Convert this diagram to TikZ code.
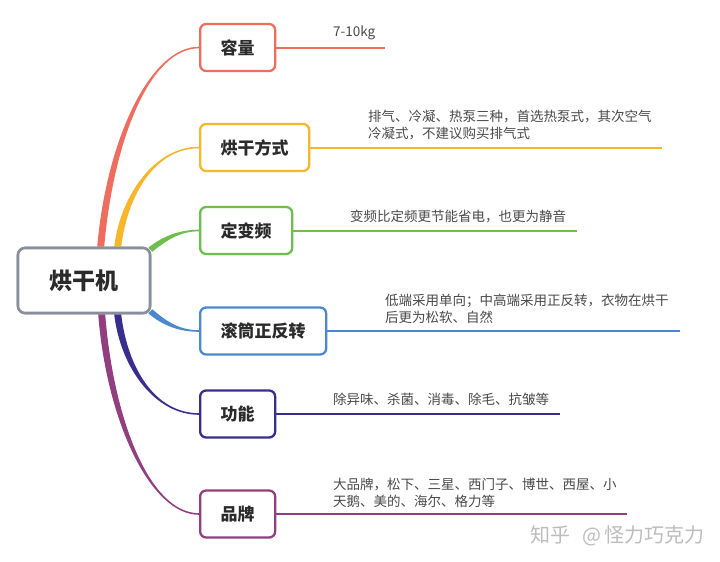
\documentclass[tikz,border=0pt]{standalone}
\usepackage{fontspec}
\setmainfont{Noto Sans CJK SC}
\usetikzlibrary{calc}
\definecolor{cred}{HTML}{EE6D5E}
\definecolor{corange}{HTML}{F6B72B}
\definecolor{cgreen}{HTML}{6EBE4E}
\definecolor{cblue}{HTML}{4C88CF}
\definecolor{cdpurple}{HTML}{392E8E}
\definecolor{cmagenta}{HTML}{913F80}
\definecolor{cgray}{HTML}{8A8F9C}
\definecolor{ctext}{HTML}{2B2B2B}
\definecolor{cdesc}{HTML}{4A4A4A}
\definecolor{cwater}{HTML}{BDBDBD}
\newcommand\taper[7]{\fill[#1] ($#2+#6$) .. controls ($#3+#6$) and ($#4+#7$) .. ($#5+#7$) -- ($#5-#7$) .. controls ($#4-#7$) and ($#3-#6$) .. ($#2-#6$) -- cycle;}
\begin{document}
\begin{tikzpicture}[x=1pt,y=-1pt,
  rootbox/.style={draw=cgray, line width=2.6pt, rounded corners=7pt, fill=white,
    minimum width=132pt, minimum height=65pt, inner sep=0pt, text=ctext,
    font=\fontsize{23}{23}\selectfont\bfseries},
  childbox/.style={draw=#1, line width=2.3pt, rounded corners=6pt, fill=white,
    minimum height=47pt, inner xsep=20.5pt, inner ysep=0pt, anchor=west, text=ctext,
    font=\fontsize{17}{17}\selectfont\bfseries},
  desc/.style={anchor=west, inner sep=0pt, align=left, text=cdesc,
    font=\fontsize{13.5}{17}\selectfont},
  underline/.style={draw=#1, line width=2pt},
]
\useasboundingbox (0,0) rectangle (720,562);
\fill[white] (0,0) rectangle (720,562);

% root
\node[rootbox] (root) at (84,280.5) {烘干机};

\path (199,47.5) coordinate (p1) (199,147.5) coordinate (p2) (199,230.5) coordinate (p3)
      (199,331) coordinate (p4) (199,414) coordinate (p5) (199,514) coordinate (p6);

% branch start points on the root box
\coordinate (s1) at ($(root.north west)+(84,0)$);
\coordinate (s2) at ($(root.north west)+(101,0)$);
\coordinate (s3) at ($(root.north east)+(-1,3)$);
\coordinate (s4) at ($(root.south east)+(-1,-3)$);
\coordinate (s5) at ($(root.south west)+(101,0)$);
\coordinate (s6) at ($(root.south west)+(85,0)$);

% tapered branches
\taper{cred}{(s1)}{(110,140)}{(150,47.5)}{(p1)}{(-3.5,0)}{(0,-0.8)}
\taper{corange}{(s2)}{(124,195)}{(155,147.5)}{(p2)}{(-3.5,0)}{(0,-0.8)}
\taper{cgreen}{(s3)}{(165,238)}{(180,230.5)}{(p3)}{(-2,-2)}{(0,-0.8)}
\taper{cblue}{(s4)}{(165,324)}{(180,331)}{(p4)}{(-2,2)}{(0,0.8)}
\taper{cdpurple}{(s5)}{(124,368)}{(155,414)}{(p5)}{(-3.5,0)}{(0,0.8)}
\taper{cmagenta}{(s6)}{(110,420)}{(150,514)}{(p6)}{(-3.5,0)}{(0,0.8)}

\node[rootbox] at (root) {烘干机};

\node[childbox=cred] (c1) at (p1) {容量};
\node[childbox=corange] (c2) at (p2) {烘干方式};
\node[childbox=cgreen] (c3) at (p3) {定变频};
\node[childbox=cblue] (c4) at (p4) {滚筒正反转};
\node[childbox=cdpurple] (c5) at (p5) {功能};
\node[childbox=cmagenta] (c6) at (p6) {品牌};

% line ends
\coordinate (e1) at (385,47.5);
\coordinate (e2) at (662,147.5);
\coordinate (e3) at (577,230.5);
\coordinate (e4) at (680,331);
\coordinate (e5) at (560,414);
\coordinate (e6) at (627,514);

\draw[underline=cred] (c1.east) -- (e1);
\draw[underline=corange] (c2.east) -- (e2);
\draw[underline=cgreen] (c3.east) -- (e3);
\draw[underline=cblue] (c4.east) -- (e4);
\draw[underline=cdpurple] (c5.east) -- (e5);
\draw[underline=cmagenta] (c6.east) -- (e6);

% descriptions
\node[desc] (d1) at (333,33) {7-10kg};
\node[desc] (d2) at (368,125) {排气、冷凝、热泵三种，首选热泵式，其次空气\\冷凝式，不建议购买排气式};
\node[desc] (d3) at (350,216) {变频比定频更节能省电，也更为静音};
\node[desc] (d4) at (385,308.5) {低端采用单向；中高端采用正反转，衣物在烘干\\后更为松软、自然};
\node[desc] (d5) at (333,399) {除异味、杀菌、消毒、除毛、抗皱等};
\node[desc] (d6) at (333,492.5) {大品牌，松下、三星、西门子、博世、西屋、小\\天鹅、美的、海尔、格力等};

% watermark
\node[anchor=west, inner sep=0pt, text=cwater, font=\fontsize{20}{20}\selectfont] (wm) at (530,536) {知乎\hspace{12pt}@\hspace{3pt}怪力巧克力};
\end{tikzpicture}
\end{document}
